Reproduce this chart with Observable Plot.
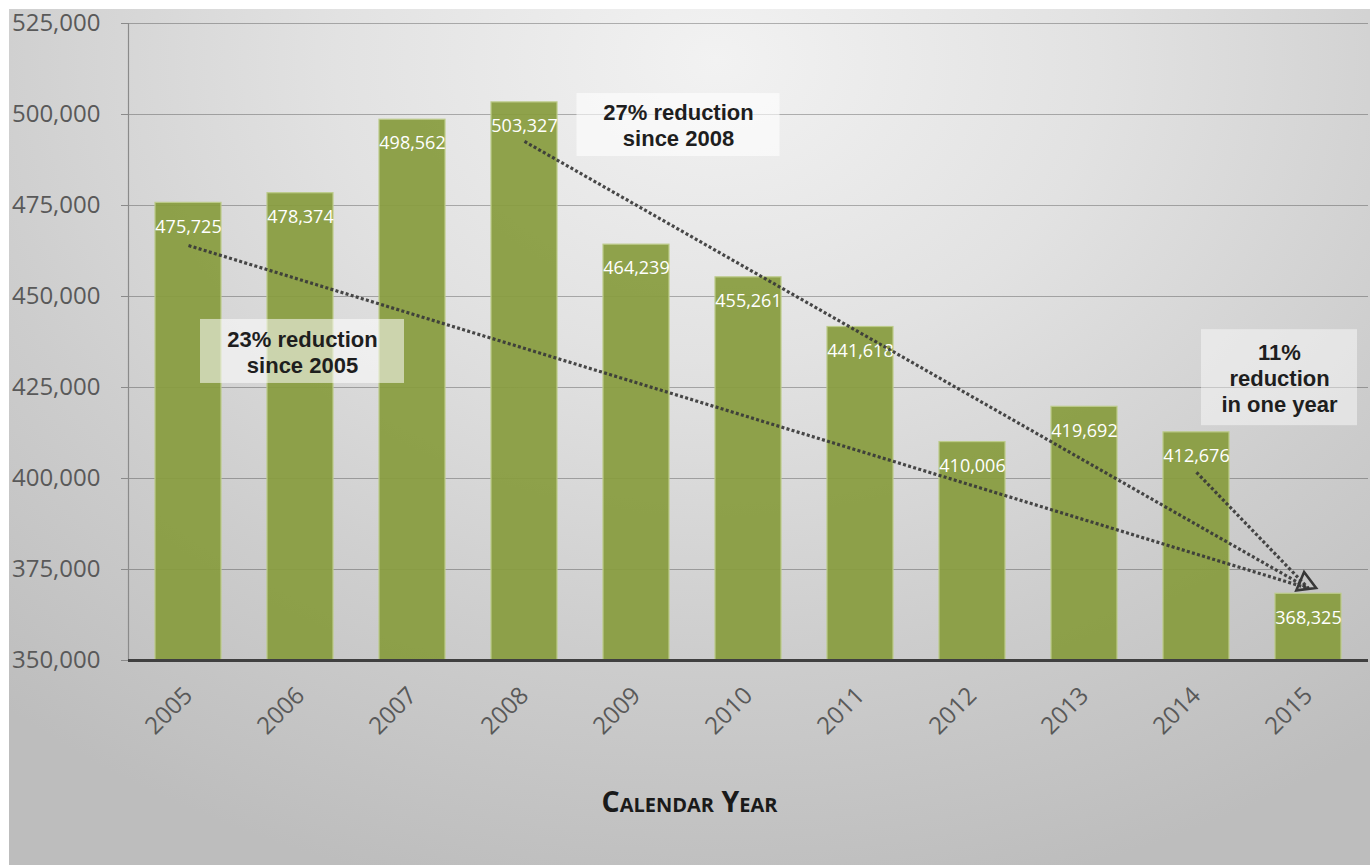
<!DOCTYPE html>
<html>
<head>
<meta charset="utf-8">
<script src="https://cdn.jsdelivr.net/npm/d3@7"></script>
<script src="https://cdn.jsdelivr.net/npm/@observablehq/plot@0.6"></script>
<style>
  html, body { margin: 0; padding: 0; background: #ffffff; }
  #chart {
    position: absolute; left: 9px; top: 9px; width: 1361px; height: 856px;
    background: radial-gradient(ellipse 80% 100% at 52% 6%, #f2f2f2 0%, #e2e2e2 35%, #cdcdcd 70%, #bdbdbd 100%);
  }
</style>
</head>
<body>
<div id="chart"></div>
<script>
// ---- data ----
const years = ["2005", "2006", "2007", "2008", "2009", "2010", "2011", "2012", "2013", "2014", "2015"];
const values = [475725, 478374, 498562, 503327, 464239, 455261, 441618, 410006, 419692, 412676, 368325];
const yTicks = [350000, 375000, 400000, 425000, 450000, 475000, 500000, 525000];
const yDomain = [350000, 525000];

// dotted trend lines (start at a year/value, all end at the same point)
const trendFromYears = ["2005", "2008", "2014"];
const trendFromValues = [464000, 492600, 401700];
const trendToYear = "2015";
const trendToValue = 369800;

// annotation notes
const noteTexts = ["23% reduction\nsince 2005", "27% reduction\nsince 2008", "11%\nreduction\nin one year"];
const noteYears = ["2006", "2009", "2015"];
const noteValues = [434900, 497100, 427700];

const axisTitle = "Calendar Year";

// ---- styles (pixel offsets / sizes of note boxes) ----
const noteStyle = [
  {dx: 2, w: 204, h: 64, op: 0.55},
  {dx: 42, w: 203, h: 63, op: 0.6},
  {dx: -29, w: 156, h: 96, op: 0.45}
];

const data = years.map((year, i) => ({year, value: values[i]}));
const fmt = d3.format(",");

function noteBoxes(index, scales) {
  const g = d3.create("svg:g");
  const x = scales.x, y = scales.y;
  noteYears.forEach((yr, i) => {
    const s = noteStyle[i];
    const cx = x(yr) + x.bandwidth() / 2 + s.dx;
    const cy = y(noteValues[i]);
    g.append("rect")
      .attr("x", cx - s.w / 2).attr("y", cy - s.h / 2)
      .attr("width", s.w).attr("height", s.h)
      .attr("fill", "#ffffff").attr("fill-opacity", s.op);
  });
  return g.node();
}

const chart = Plot.plot({
  width: 1361,
  height: 856,
  marginLeft: 119,
  marginRight: 2,
  marginTop: 14,
  marginBottom: 205,
  style: {background: "transparent", fontFamily: "'Open Sans', sans-serif", overflow: "visible"},
  x: {domain: years, paddingInner: 0.41, paddingOuter: 0.205, label: null},
  y: {domain: yDomain, label: null},
  marks: [
    Plot.gridY(yTicks, {stroke: "#000000", strokeOpacity: 0.27, strokeWidth: 1.2}),
    Plot.frame({anchor: "left", stroke: "#8a8a8a", strokeWidth: 1.2}),
    Plot.barY(data, {
      x: "year", y1: () => yDomain[0], y2: "value",
      fill: "#889c3e", fillOpacity: 0.93, stroke: "#bccb8a", strokeWidth: 1.2
    }),
    Plot.text(data, {
      x: "year", y: "value", text: d => fmt(d.value), dy: 24,
      fill: "#ffffff", fontSize: 18, fontFamily: "'Open Sans', sans-serif"
    }),
    Plot.ruleY([yDomain[0]], {stroke: "#404040", strokeWidth: 3}),
    Plot.link(trendFromYears, {
      x1: d => d, y1: (d, i) => trendFromValues[i],
      x2: () => trendToYear, y2: () => trendToValue,
      stroke: "#383838", strokeOpacity: 0.92, strokeWidth: 3.2, strokeDasharray: "3,2.3"
    }),
    Plot.dot([trendToYear], {
      x: d => d, y: () => trendToValue, dx: -3, dy: -5,
      symbol: "triangle", r: 7.4, rotate: 113,
      fill: "none", stroke: "#383838", strokeWidth: 2.6
    }),
    noteBoxes,
    noteTexts.map((t, i) => Plot.text([t], {
      x: () => noteYears[i], y: () => noteValues[i], dx: noteStyle[i].dx,
      text: d => d, fontSize: 22, fontWeight: "bold", lineHeight: 1.17,
      fontFamily: "'Liberation Sans', Arial, sans-serif", fill: "#1e1e1e"
    })),
    Plot.axisY(yTicks, {
      tickFormat: d => fmt(d), tickSize: 7, tickPadding: 21, fontSize: 24,
      stroke: "#8a8a8a", fill: "#595959", label: null
    }),
    Plot.axisX({
      tickRotate: -45, tickSize: 0, tickPadding: 31, fontSize: 24,
      fill: "#595959", label: null
    }),
    Plot.text([axisTitle], {
      frameAnchor: "bottom", dx: -59, dy: 151, text: d => d,
      fontSize: 28.5, fontWeight: "bold", fontVariant: "small-caps",
      fontFamily: "'Open Sans', sans-serif", fill: "#1a1a1a"
    })
  ]
});

document.getElementById("chart").appendChild(chart);
</script>
</body>
</html>
